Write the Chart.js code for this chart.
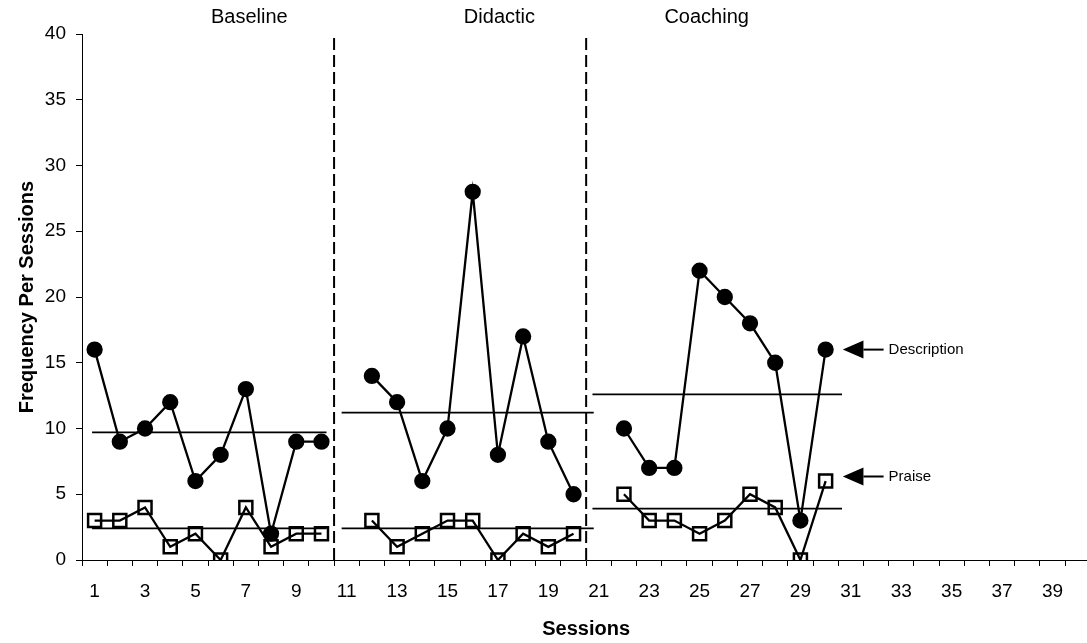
<!DOCTYPE html>
<html>
<head>
<meta charset="utf-8">
<script src="https://cdn.jsdelivr.net/npm/chart.js@4.4.1/dist/chart.umd.min.js"></script>
<style>
  html, body { margin: 0; padding: 0; background: #fff; overflow: hidden; }
  #wrap { width: 1102px; height: 643px; }
</style>
</head>
<body>
<div id="wrap"><canvas id="chart"></canvas></div>
<script>
// sessions 1..40 on the x axis
const sessions = Array.from({ length: 40 }, (_, i) => String(i + 1));

// frequency per session (null = no session / phase gap)
const description = [
  16, 9, 10, 12, 6, 8, 13, 2, 9, 9,
  null, 14, 12, 6, 10, 28, 8, 17, 9, 5,
  null, 10, 7, 7, 22, 20, 18, 15, 3, 16
];
const praise = [
  3, 3, 4, 1, 2, 0, 4, 1, 2, 2,
  null, 3, 1, 2, 3, 3, 0, 2, 1, 2,
  null, 5, 3, 3, 2, 3, 5, 4, 0, 6
];

// phases and their mean lines
const phases = ["Baseline", "Didactic", "Coaching"];
const phaseFrom = [0.9, 10.8, 20.75];
const phaseTo = [10.2, 20.8, 30.65];
const descriptionMean = [9.7, 11.2, 12.6];
const praiseMean = [2.4, 2.4, 3.9];
const phaseChanges = [10.5, 20.5];

const yTicks = [0, 5, 10, 15, 20, 25, 30, 35, 40];

const FONT = "'Liberation Sans', Arial, sans-serif";

const meanSets = [];
phases.forEach((p, i) => {
    [descriptionMean[i], praiseMean[i]].forEach(m => {
        meanSets.push({
            type: "line",
            xAxisID: "xl",
            data: [{ x: phaseFrom[i], y: m }, { x: phaseTo[i], y: m }],
            borderColor: "#000",
            borderWidth: 1.8,
            pointRadius: 0,
            order: 5
        });
    });
});

const phaseLineSets = phaseChanges.map(x => ({
    type: "line",
    xAxisID: "xl",
    data: [{ x: x, y: 0 }, { x: x, y: 40 }],
    borderColor: "#000",
    borderWidth: 2,
    borderDash: [12, 5],
    pointRadius: 0,
    order: 6
}));

// phase titles above the plot and the two pointer labels on the right
const annotations = {
    id: "annotations",
    afterDraw(chart) {
        const ctx = chart.ctx;
        const xs = chart.scales.xl, ys = chart.scales.y;
        ctx.save();
        ctx.fillStyle = "#000";
        ctx.font = "20px " + FONT;
        ctx.textAlign = "center";
        ctx.textBaseline = "middle";
        const titleAt = [7.14, 17.06, 25.28];
        phases.forEach((p, i) => ctx.fillText(p, xs.getPixelForValue(titleAt[i]), 17));

        const pointers = [["Description", 16], ["Praise", 6.35]];
        ctx.font = "15px " + FONT;
        ctx.textAlign = "left";
        ctx.strokeStyle = "#000";
        ctx.lineWidth = 2;
        pointers.forEach(([label, v]) => {
            const y = ys.getPixelForValue(v);
            const tip = xs.getPixelForValue(30.68);
            const back = xs.getPixelForValue(31.5);
            const end = xs.getPixelForValue(32.3);
            ctx.beginPath();
            ctx.moveTo(tip, y);
            ctx.lineTo(back, y - 9);
            ctx.lineTo(back, y + 9);
            ctx.closePath();
            ctx.fill();
            ctx.beginPath();
            ctx.moveTo(back, y);
            ctx.lineTo(end, y);
            ctx.stroke();
            ctx.fillText(label, end + 5, y);
        });
        ctx.restore();
    }
};

new Chart(document.getElementById("chart").getContext("2d"), {
    type: "line",
    data: {
        labels: sessions,
        datasets: [
            {
                label: "Description",
                data: description,
                borderColor: "#000",
                borderWidth: 2.3,
                pointStyle: "circle",
                pointRadius: 7,
                pointBackgroundColor: "#000",
                pointBorderColor: "#000",
                spanGaps: false,
                order: 1
            },
            {
                label: "Praise",
                data: praise,
                borderColor: "#000",
                borderWidth: 2.3,
                pointStyle: "rect",
                pointRadius: 9.2,
                pointBorderWidth: 2.5,
                pointBackgroundColor: "rgba(0,0,0,0)",
                pointBorderColor: "#000",
                spanGaps: false,
                order: 2
            },
            ...meanSets,
            ...phaseLineSets
        ]
    },
    options: {
        responsive: true,
        maintainAspectRatio: false,
        animation: false,
        layout: { padding: { top: 34, right: 2, left: 0, bottom: 0 } },
        plugins: { legend: { display: false }, tooltip: { enabled: false } },
        scales: {
            x: {
                type: "category",
                offset: true,
                grid: { offset: true, drawOnChartArea: false, tickLength: 6, color: "#000" },
                border: { color: "#000", width: 1 },
                ticks: {
                    autoSkip: false,
                    maxRotation: 0,
                    padding: 14,
                    color: "#000",
                    font: { family: FONT, size: 19 },
                    callback: (v, i) => (i % 2 === 0 ? sessions[i] : "")
                },
                title: {
                    display: true,
                    text: "Sessions",
                    color: "#000",
                    font: { family: FONT, size: 20, weight: "bold" },
                    padding: { top: 0, bottom: 2 }
                },
                afterFit: s => { s.height = 83; }
            },
            xl: {
                type: "linear",
                display: false,
                min: 0.5,
                max: 40.5
            },
            y: {
                min: 0,
                max: 40,
                afterBuildTicks: s => { s.ticks = yTicks.map(v => ({ value: v })); },
                grid: { drawOnChartArea: false, tickLength: 6, color: "#000" },
                border: { color: "#000", width: 1 },
                ticks: {
                    padding: 10,
                    color: "#000",
                    font: { family: FONT, size: 19 }
                },
                title: {
                    display: true,
                    text: "Frequency Per Sessions",
                    color: "#000",
                    font: { family: FONT, size: 20, weight: "bold" },
                    padding: { top: 15, bottom: 0 }
                },
                afterFit: s => { s.width = 82; }
            }
        }
    },
    plugins: [annotations]
});
</script>
</body>
</html>
